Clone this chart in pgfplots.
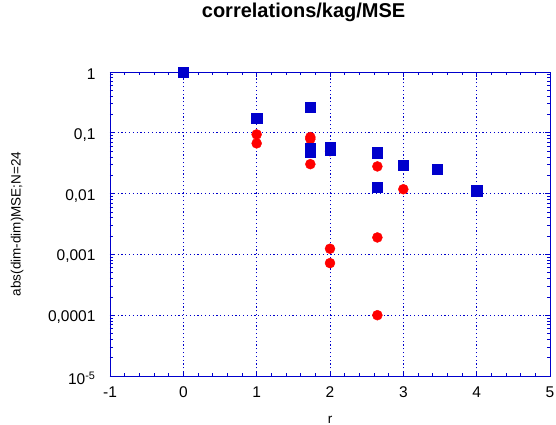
\documentclass[border=0pt]{standalone}
\usepackage{fontspec}
\setmainfont{Liberation Sans}
\usepackage{pgfplots}
\pgfplotsset{compat=1.18}
\definecolor{gpblue}{RGB}{0,0,204}
\definecolor{gpred}{RGB}{255,0,0}
\begin{document}
\begin{tikzpicture}[x=1pt,y=1pt]
\path[use as bounding box] (-110,-49) rectangle (446,376);
\begin{axis}[
  at={(0,0)}, anchor=south west,
  scale only axis,
  width=440pt, height=304pt,
  xmin=-1, xmax=5,
  ymode=log, ymin=1e-5, ymax=1,
  xtick={-1,0,1,2,3,4,5},
  xticklabels={-1,0,1,2,3,4,5},
  minor x tick num=4,
  ytick={1e-5,1e-4,1e-3,1e-2,1e-1,1},
  yticklabels={10\textsuperscript{-5},{0,0001},{0,001},{0,01},{0,1},1},
  tick align=inside,
  major tick length=5pt,
  minor tick length=3.5pt,
  axis line style={gpblue, line width=0.9pt},
  every tick/.style={gpblue, line width=0.8pt},
  grid=major,
  major grid style={gpblue, line width=0.9pt, dash pattern=on 1.2pt off 2.6pt},
  ticklabel style={font=\fontsize{15.5}{17}\selectfont, text=black},
  xticklabel style={yshift=-7pt},
  yticklabel style={xshift=-11pt, yshift=-2pt},
  title={\textbf{correlations/kag/MSE}},
  title style={font=\fontsize{20}{22}\selectfont, at={(axis description cs:0.44,1)}, anchor=base, yshift=48pt},
  xlabel={r},
  xlabel style={font=\fontsize{13.5}{15}\selectfont, at={(axis description cs:0.5,-0.155)}, anchor=base},
  ylabel={abs(dim-dim)MSE;N=24},
  ylabel style={font=\fontsize{13.5}{15}\selectfont, at={(axis description cs:-0.211,0.5)}, anchor=center},
  clip=false,
]
\addplot[only marks, mark=*, mark size=5pt, gpred, mark options={draw=gpred, fill=gpred}] coordinates {
  (1,0.094) (1,0.067)
  (1.732,0.085) (1.732,0.079) (1.732,0.0305)
  (2,0.050) (2,0.00124) (2,0.00072)
  (2.646,0.028) (2.646,0.0019) (2.646,0.0001)
  (3,0.0118)
};
\addplot[only marks, mark=square*, mark size=5.2pt, gpblue, mark options={draw=gpblue, fill=gpblue}] coordinates {
  (0,1)
  (1,0.175)
  (1.732,0.265) (1.732,0.055) (1.732,0.048)
  (2,0.058) (2,0.052)
  (2.646,0.047) (2.646,0.0127)
  (3,0.029)
  (3.464,0.025)
  (4,0.0112)
};
\end{axis}
\end{tikzpicture}
\end{document}
